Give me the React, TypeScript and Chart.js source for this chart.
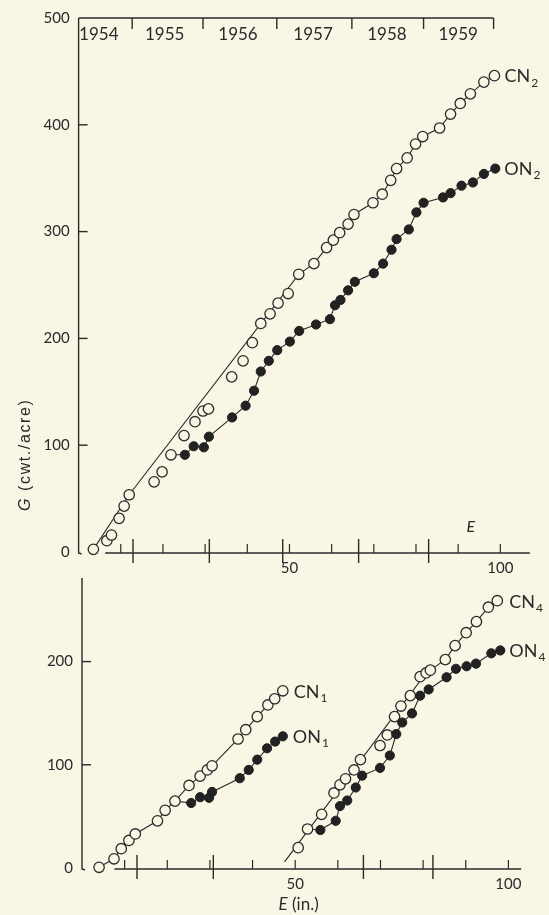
import React, { useEffect, useRef } from "react";
import { Chart, registerables } from "chart.js";

Chart.register(...registerables);

// ---------------- data: upper panel ----------------
const TOP_CN_E = [3.5, 6.7, 7.8, 9.6, 10.8, 12.0, 17.9, 19.8, 21.9, 25.0, 27.6, 29.5, 30.8, 36.3, 39.0, 41.2, 43.2, 45.4, 47.3, 49.7, 52.2, 55.8, 58.8, 60.4, 61.9, 63.9, 65.3, 69.8, 72.0, 74.0, 75.4, 77.9, 79.9, 81.6, 85.6, 88.2, 90.5, 92.9, 96.1, 98.6];
const TOP_CN_G = [2.5, 10.6, 15.9, 31.5, 43, 53.6, 65.7, 75, 91, 109, 122, 132, 134, 164, 179, 196, 214, 223, 233, 242, 260, 270, 285, 292, 299, 307, 316, 327, 335, 348, 359, 369, 382, 389, 397, 410, 420, 429, 440, 446];
const TOP_CN_FIT_E = [3.5, 12.0, 52.2];
const TOP_CN_FIT_G = [2.5, 53.6, 260];

const TOP_ON_E = [25.2, 27.3, 29.7, 30.9, 36.4, 39.6, 41.6, 43.2, 45.1, 47.1, 50.1, 52.3, 56.3, 59.6, 60.8, 62.1, 63.9, 65.5, 70.0, 72.2, 74.2, 75.4, 78.3, 80.1, 81.8, 86.4, 88.2, 90.8, 93.5, 96.1, 98.8];
const TOP_ON_G = [91, 99, 98, 108, 126, 137, 151, 169, 179, 189, 197, 207, 213, 218, 231, 236, 245, 253, 261, 270, 283, 293, 302, 318, 327, 332, 336, 343, 346, 354, 359];
const TOP_ON_START = [21.9, 91];

const YEARS = ["1954", "1955", "1956", "1957", "1958", "1959"];
const YEAR_LABEL_E = [4.8, 20.4, 37.8, 55.6, 73.1, 90.0];
const YEAR_TICK_E = [12.7, 29.5, 47.0, 64.8, 81.8, 98.4];

const TOP_Y_LABELS = [0, 100, 200, 300, 400, 500];
const TOP_Y_MARKS = [100, 200, 300, 400];
const TOP_LONG_TICKS = [12.9, 31.0, 48.4, 66.4, 83.0];

// ---------------- data: lower panel ----------------
const CN1_E = [4.0, 7.5, 9.2, 11.0, 12.5, 17.7, 19.5, 21.8, 25.1, 27.7, 29.4, 30.5, 36.6, 38.4, 41.1, 43.6, 45.2, 47.1];
const CN1_G = [0.7, 8.9, 18.7, 26.7, 33, 45.7, 55.9, 64.8, 80, 89, 95, 99, 125, 134, 146.7, 158, 164, 171.7];
const ON1_E = [25.6, 27.7, 29.8, 30.5, 37.0, 39.1, 41.1, 43.4, 45.3, 47.1];
const ON1_G = [63, 68.6, 68, 73.7, 87, 95, 105, 116, 122.5, 127.6];
const ON1_START = [21.8, 64.8];

const CN4_E = [50.7, 52.9, 56.2, 59.1, 60.5, 61.8, 63.8, 65.3, 69.9, 71.6, 73.3, 74.8, 77.0, 79.3, 80.7, 81.7, 85.2, 87.5, 90.1, 92.5, 95.3, 97.4];
const CN4_G = [19.7, 37.8, 52, 72.7, 80.6, 86.4, 95, 105, 118.7, 128.9, 146.7, 156.9, 167, 185.4, 189, 191.7, 201.9, 215.5, 228, 238.7, 252.7, 259];
const CN4_FIT_E = [47.5, 80.7];
const CN4_FIT_G = [6, 189];
const ON4_E = [55.9, 59.5, 60.5, 62.2, 64.2, 65.7, 69.9, 72.2, 73.7, 75.1, 77.4, 79.3, 81.3, 85.5, 87.7, 90.2, 92.4, 96.0, 98.1];
const ON4_G = [36.8, 45.7, 60, 65.4, 78, 89.5, 97, 109, 129.8, 141, 149.8, 167, 173, 184.8, 193, 195.5, 198, 208, 210.8];
const ON4_START = [52.9, 37.8];

const BOT_Y_LABELS = [0, 100, 200];
const BOT_Y_MARKS = [100, 200];
const BOT_LONG_TICKS = [12.9, 30.8, 66.0, 82.3];

// ---------------- shared axis data ----------------
const X_LABELS = [50, 100];
const X_SHORT_TICKS = [10, 20, 30, 40, 50, 60, 70, 80, 90, 100];

// ---------------- styling ----------------
const BG = "#f9f6e6";
const INK = "#2a2a2a";
const NUM_FONT = "Lato, 'Open Sans', sans-serif";
const LABEL_FONT = "'Liberation Sans', Arial, sans-serif";

type Pt = { x: number; y: number };
const pts = (e: number[], g: number[]): Pt[] => e.map((v, i) => ({ x: v, y: g[i] }));

type SeriesLabel = { main: string; sub: string; e: number[]; g: number[]; dx: number };

type PanelOpts = {
  xMax: number;
  yMax: number;
  yWidth: number;
  xHeight: number;
  padTop: number;
  padRight: number;
  xTickPad: number;
  yLabels: number[];
  yMarks: number[];
  longTicks: number[];
  axisFrom: number;
  axisTo: number;
  datasets: any[];
  labels: SeriesLabel[];
  extra?: (ctx: CanvasRenderingContext2D, chart: any) => void;
};

function drawSubLabel(ctx: CanvasRenderingContext2D, main: string, sub: string, x: number, y: number) {
  ctx.fillStyle = INK;
  ctx.textBaseline = "middle";
  ctx.textAlign = "left";
  ctx.font = `18px ${NUM_FONT}`;
  ctx.fillText(main, x, y);
  const w = ctx.measureText(main).width;
  ctx.font = `12px ${NUM_FONT}`;
  ctx.fillText(sub, x + w + 1, y + 6);
}

function makeConfig(o: PanelOpts): any {
  const deco = {
    id: "deco",
    beforeDatasetsDraw(chart: any) {
      const ctx: CanvasRenderingContext2D = chart.ctx;
      const xs = chart.scales.x;
      const ys = chart.scales.y;
      const x0 = xs.getPixelForValue(0);
      const y0 = ys.getPixelForValue(0);
      ctx.save();
      ctx.strokeStyle = INK;
      ctx.lineWidth = 1.4;
      // y axis with a small foot
      ctx.beginPath();
      ctx.moveTo(x0, ys.getPixelForValue(o.yMax));
      ctx.lineTo(x0, y0 + 1);
      ctx.lineTo(x0 + 3, y0 + 2);
      ctx.stroke();
      // y tick marks (inward)
      o.yMarks.forEach((v) => {
        const py = ys.getPixelForValue(v);
        ctx.beginPath();
        ctx.moveTo(x0, py);
        ctx.lineTo(x0 + 9, py);
        ctx.stroke();
      });
      // E axis line
      const ya = y0 + 1;
      ctx.beginPath();
      ctx.moveTo(xs.getPixelForValue(o.axisFrom), ya);
      ctx.lineTo(xs.getPixelForValue(o.axisTo), ya);
      ctx.stroke();
      ctx.lineWidth = 1.2;
      X_SHORT_TICKS.forEach((v) => {
        const px = xs.getPixelForValue(v);
        ctx.beginPath();
        ctx.moveTo(px, ya);
        ctx.lineTo(px, ya - 9);
        ctx.stroke();
      });
      ctx.lineWidth = 1.4;
      o.longTicks.forEach((v) => {
        const px = xs.getPixelForValue(v);
        ctx.beginPath();
        ctx.moveTo(px, ya - 14);
        ctx.lineTo(px, ya + 10);
        ctx.stroke();
      });
      if (o.extra) o.extra(ctx, chart);
      ctx.restore();
    },
    afterDraw(chart: any) {
      const ctx: CanvasRenderingContext2D = chart.ctx;
      const xs = chart.scales.x;
      const ys = chart.scales.y;
      ctx.save();
      o.labels.forEach((l) => {
        const n = l.e.length - 1;
        drawSubLabel(ctx, l.main, l.sub, xs.getPixelForValue(l.e[n]) + l.dx, ys.getPixelForValue(l.g[n]) + 1);
      });
      ctx.restore();
    },
  };

  return {
    type: "scatter",
    data: { datasets: o.datasets },
    options: {
      animation: false,
      responsive: false,
      devicePixelRatio: 1,
      events: [],
      layout: { padding: { top: o.padTop, right: o.padRight, left: 0, bottom: 0 } },
      plugins: { legend: { display: false }, tooltip: { enabled: false } },
      scales: {
        x: {
          type: "linear",
          min: 0,
          max: o.xMax,
          position: "bottom",
          grid: { display: false, drawTicks: false },
          border: { display: false },
          ticks: {
            autoSkip: false,
            maxRotation: 0,
            padding: o.xTickPad,
            color: INK,
            font: { family: NUM_FONT, size: 15 },
            callback: (v: any) => String(v),
          },
          afterBuildTicks: (s: any) => {
            s.ticks = X_LABELS.map((v) => ({ value: v }));
          },
          afterFit: (s: any) => {
            s.height = o.xHeight;
          },
        },
        y: {
          type: "linear",
          min: 0,
          max: o.yMax,
          grid: { display: false, drawTicks: false },
          border: { display: false },
          ticks: {
            padding: 9,
            color: INK,
            font: { family: NUM_FONT, size: 15 },
            callback: (v: any) => String(v),
          },
          afterBuildTicks: (s: any) => {
            s.ticks = o.yLabels.map((v) => ({ value: v }));
          },
          afterFit: (s: any) => {
            s.width = o.yWidth;
          },
        },
      },
    },
    plugins: [deco],
  };
}

const lineDs = (data: Pt[]) => ({
  data,
  showLine: true,
  borderColor: INK,
  borderWidth: 1.1,
  pointRadius: 0,
  fill: false,
  order: 2,
  clip: false,
});
const openDs = (data: Pt[]) => ({
  data,
  showLine: false,
  pointRadius: 5.2,
  pointBorderWidth: 1.3,
  pointBorderColor: INK,
  pointBackgroundColor: BG,
  order: 1,
  clip: false,
});
const filledDs = (data: Pt[]) => ({
  data,
  showLine: false,
  pointRadius: 4.6,
  pointBorderWidth: 1,
  pointBorderColor: "#1e1e1e",
  pointBackgroundColor: "#222222",
  order: 0,
  clip: false,
});

function topConfig() {
  const cnFitLine = [
    ...pts(TOP_CN_FIT_E, TOP_CN_FIT_G),
    ...pts(TOP_CN_E, TOP_CN_G).filter((p) => p.x > TOP_CN_FIT_E[TOP_CN_FIT_E.length - 1]),
  ];
  const onLine = [{ x: TOP_ON_START[0], y: TOP_ON_START[1] }, ...pts(TOP_ON_E, TOP_ON_G)];
  return makeConfig({
    xMax: 110,
    yMax: 500,
    yWidth: 78.6,
    xHeight: 28,
    padTop: 17,
    padRight: 6.2,
    xTickPad: 7,
    yLabels: TOP_Y_LABELS,
    yMarks: TOP_Y_MARKS,
    longTicks: TOP_LONG_TICKS,
    axisFrom: 6.3,
    axisTo: 107,
    datasets: [
      filledDs(pts(TOP_ON_E, TOP_ON_G)),
      openDs(pts(TOP_CN_E, TOP_CN_G)),
      lineDs(cnFitLine),
      lineDs(onLine),
    ],
    labels: [
      { main: "CN", sub: "2", e: TOP_CN_E, g: TOP_CN_G, dx: 10 },
      { main: "ON", sub: "2", e: TOP_ON_E, g: TOP_ON_G, dx: 9 },
    ],
    extra: (ctx, chart) => {
      const xs = chart.scales.x;
      const ys = chart.scales.y;
      const yt = ys.getPixelForValue(500);
      const x0 = xs.getPixelForValue(0);
      // year axis along the top
      ctx.lineWidth = 1.4;
      ctx.beginPath();
      ctx.moveTo(x0, yt);
      ctx.lineTo(xs.getPixelForValue(YEAR_TICK_E[YEAR_TICK_E.length - 1]), yt);
      ctx.stroke();
      YEAR_TICK_E.forEach((v) => {
        const px = xs.getPixelForValue(v);
        ctx.beginPath();
        ctx.moveTo(px, yt);
        ctx.lineTo(px, yt + 11);
        ctx.stroke();
      });
      ctx.fillStyle = INK;
      ctx.textAlign = "center";
      ctx.textBaseline = "middle";
      ctx.font = `17px ${NUM_FONT}`;
      YEARS.forEach((y, i) => ctx.fillText(y, xs.getPixelForValue(YEAR_LABEL_E[i]), yt + 17));
      // italic E near the axis
      ctx.font = `italic 16px ${NUM_FONT}`;
      ctx.fillText("E", xs.getPixelForValue(93), ys.getPixelForValue(24));
      // rotated y-axis title
      ctx.save();
      ctx.translate(26, ys.getPixelForValue(91));
      ctx.rotate(-Math.PI / 2);
      ctx.textBaseline = "middle";
      ctx.textAlign = "left";
      (ctx as any).letterSpacing = "1.6px";
      ctx.font = `italic 16px ${LABEL_FONT}`;
      const gw = ctx.measureText("G").width;
      ctx.font = `16px ${LABEL_FONT}`;
      const rw = ctx.measureText(" (cwt./acre)").width;
      const start = -(gw + rw) / 2;
      ctx.font = `italic 16px ${LABEL_FONT}`;
      ctx.fillText("G", start, 0);
      ctx.font = `16px ${LABEL_FONT}`;
      ctx.fillText(" (cwt./acre)", start + gw, 0);
      ctx.restore();
    },
  });
}

function bottomConfig() {
  const on1Line = [{ x: ON1_START[0], y: ON1_START[1] }, ...pts(ON1_E, ON1_G)];
  const cn4Line = [
    ...pts(CN4_FIT_E, CN4_FIT_G),
    ...pts(CN4_E, CN4_G).filter((p) => p.x > CN4_FIT_E[CN4_FIT_E.length - 1]),
  ];
  const on4Line = [{ x: ON4_START[0], y: ON4_START[1] }, ...pts(ON4_E, ON4_G)];
  return makeConfig({
    xMax: 108,
    yMax: 281,
    yWidth: 82,
    xHeight: 47,
    padTop: 13,
    padRight: 3.7,
    xTickPad: 7,
    yLabels: BOT_Y_LABELS,
    yMarks: BOT_Y_MARKS,
    longTicks: BOT_LONG_TICKS,
    axisFrom: 7.6,
    axisTo: 103,
    datasets: [
      filledDs(pts(ON1_E, ON1_G)),
      filledDs(pts(ON4_E, ON4_G)),
      openDs(pts(CN1_E, CN1_G)),
      openDs(pts(CN4_E, CN4_G)),
      lineDs(pts(CN1_E, CN1_G)),
      lineDs(on1Line),
      lineDs(cn4Line),
      lineDs(on4Line),
    ],
    labels: [
      { main: "CN", sub: "1", e: CN1_E, g: CN1_G, dx: 11 },
      { main: "ON", sub: "1", e: ON1_E, g: ON1_G, dx: 10 },
      { main: "CN", sub: "4", e: CN4_E, g: CN4_G, dx: 12 },
      { main: "ON", sub: "4", e: ON4_E, g: ON4_G, dx: 9 },
    ],
    extra: (ctx, chart) => {
      const xs = chart.scales.x;
      const ys = chart.scales.y;
      const y = ys.getPixelForValue(0) + 37;
      ctx.fillStyle = INK;
      ctx.textBaseline = "middle";
      ctx.textAlign = "left";
      ctx.font = `italic 17px ${NUM_FONT}`;
      const ew = ctx.measureText("E").width;
      ctx.font = `17px ${NUM_FONT}`;
      const rw = ctx.measureText(" (in.)").width;
      const cx = xs.getPixelForValue(50.8);
      const start = cx - (ew + rw) / 2;
      ctx.font = `italic 17px ${NUM_FONT}`;
      ctx.fillText("E", start, y);
      ctx.font = `17px ${NUM_FONT}`;
      ctx.fillText(" (in.)", start + ew, y);
    },
  });
}

function Panel({ top, height, make }: { top: number; height: number; make: () => any }) {
  const ref = useRef<HTMLCanvasElement | null>(null);
  useEffect(() => {
    if (!ref.current) return;
    const chart = new Chart(ref.current, make());
    return () => chart.destroy();
  }, []);
  return (
    <canvas
      ref={ref}
      width={549}
      height={height}
      style={{ position: "absolute", left: 0, top, width: 549, height }}
    />
  );
}

export default function App() {
  return (
    <div style={{ position: "fixed", left: 0, top: 0, width: 549, height: 915, background: BG, overflow: "hidden" }}>
      <Panel top={0} height={580} make={topConfig} />
      <Panel top={560} height={355} make={bottomConfig} />
    </div>
  );
}
